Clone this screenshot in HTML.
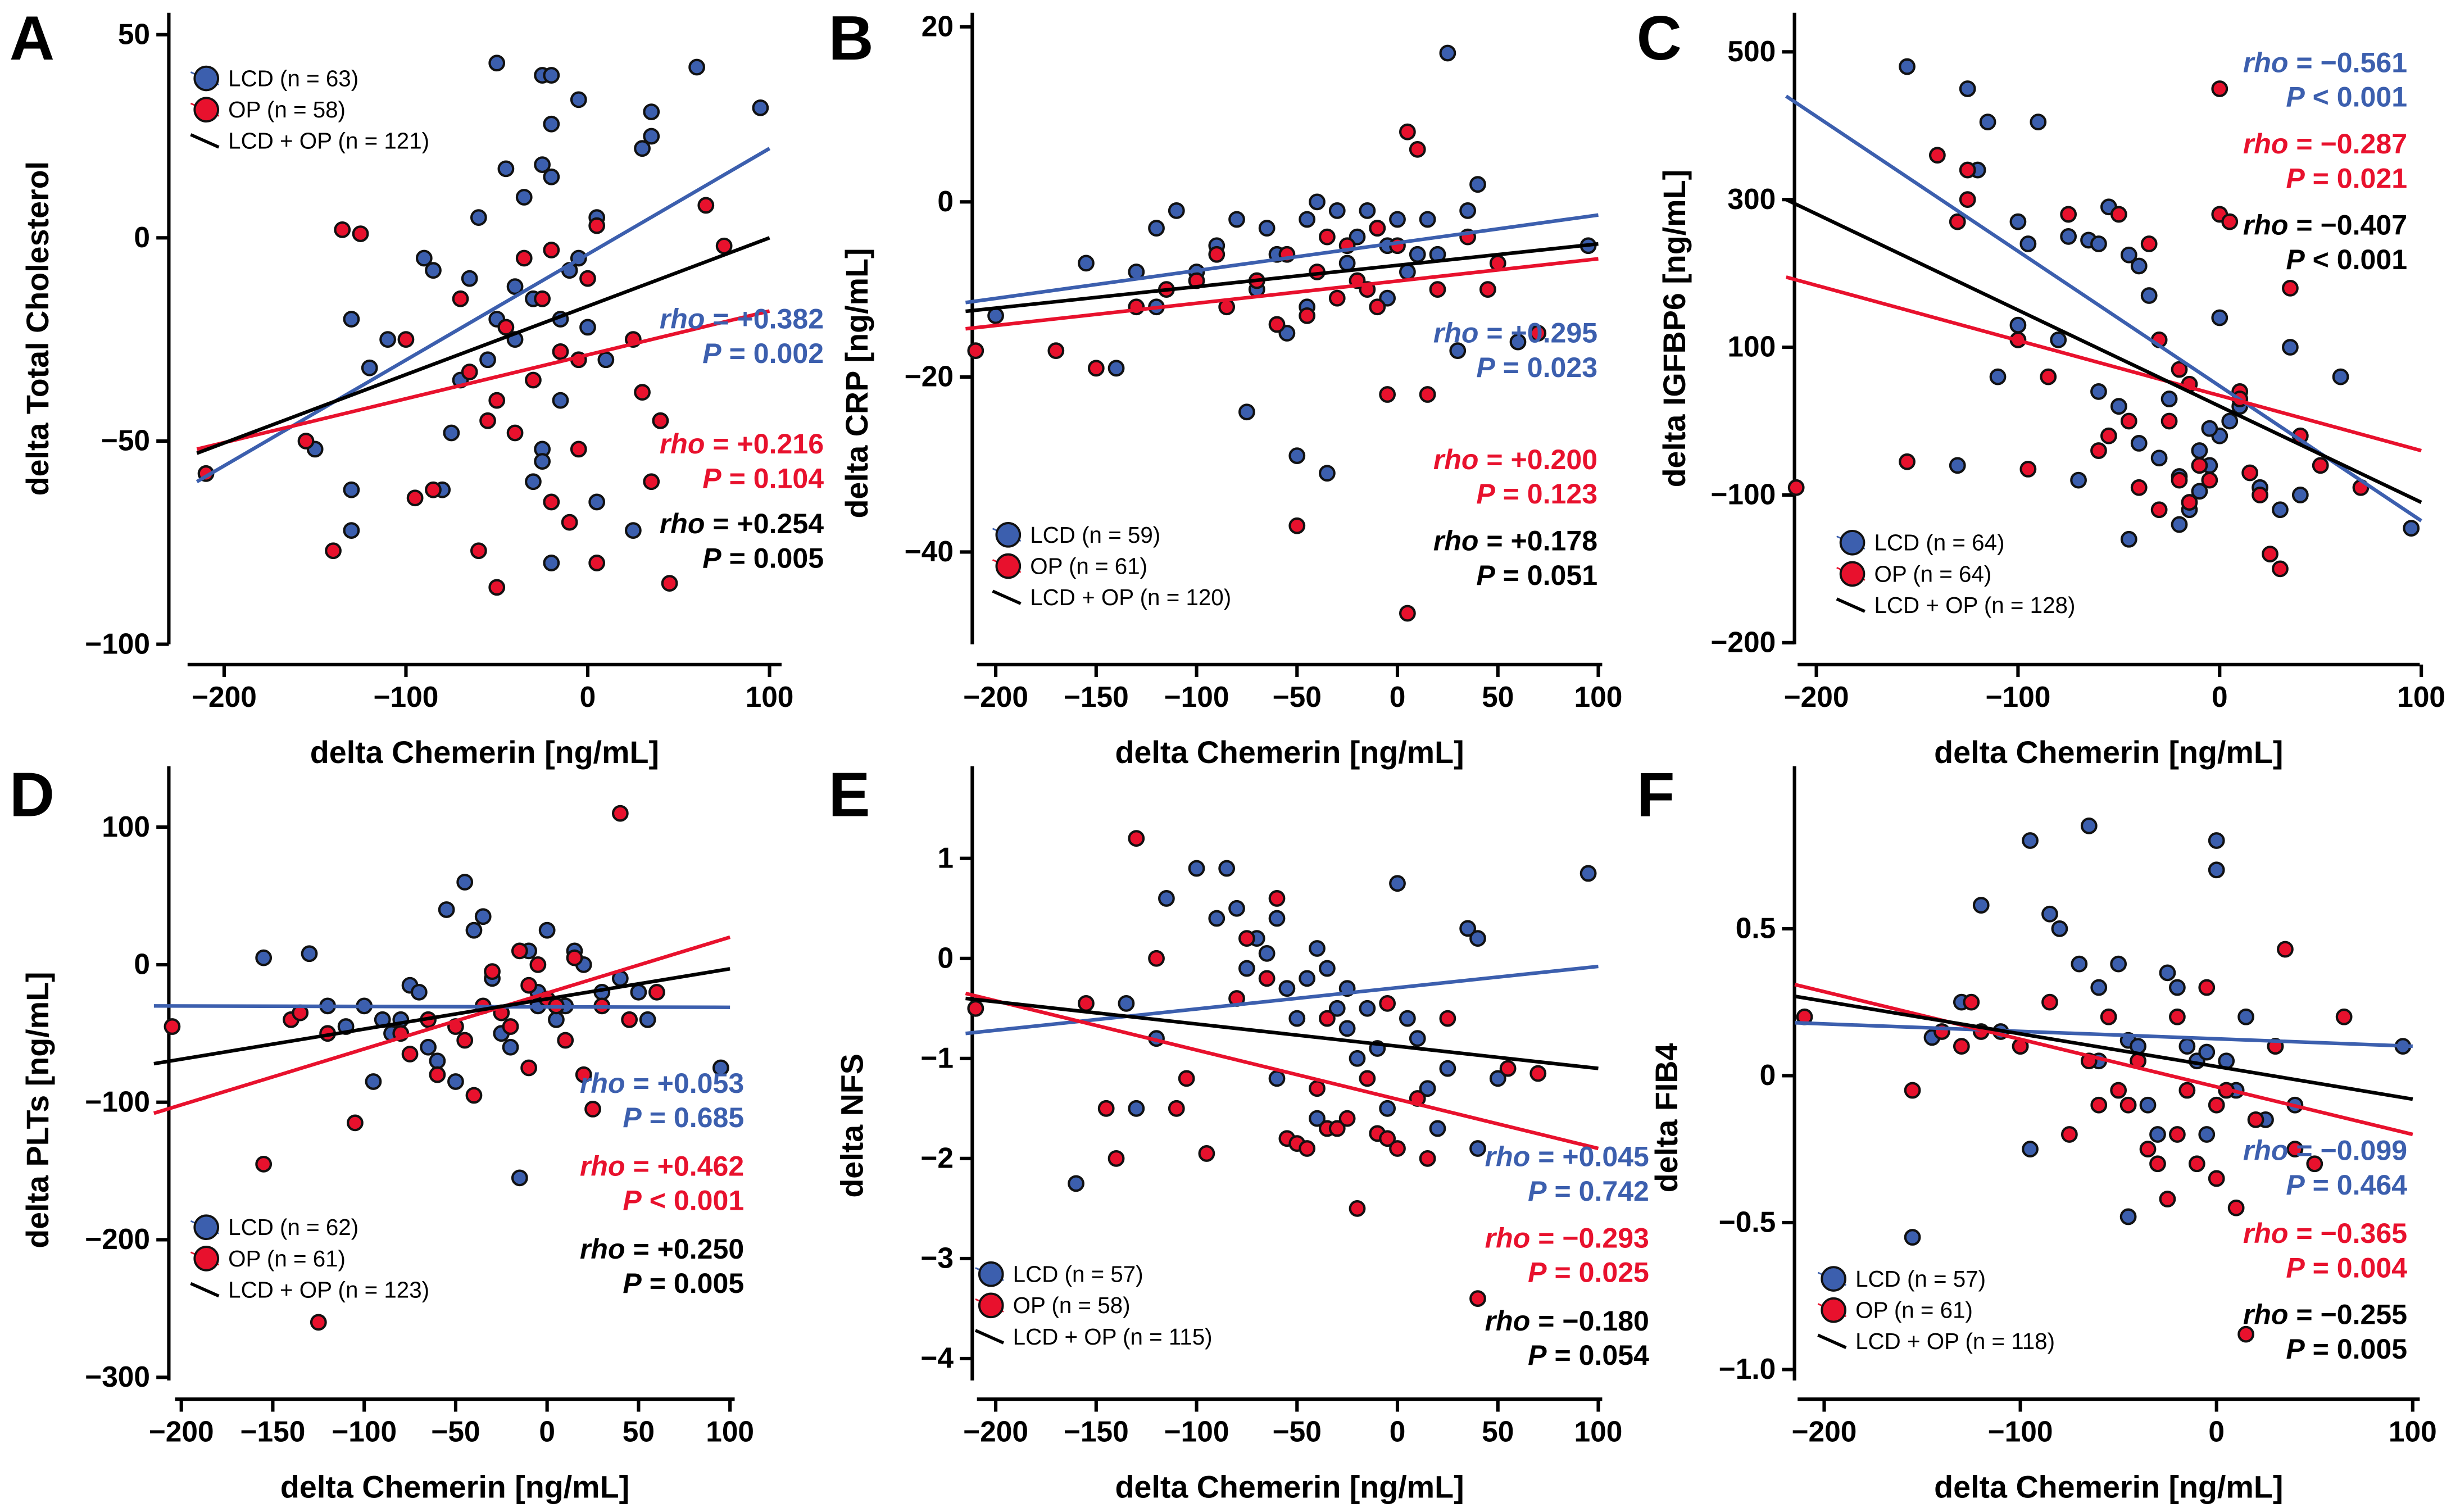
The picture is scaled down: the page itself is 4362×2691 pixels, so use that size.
<!DOCTYPE html>
<html><head><meta charset="utf-8">
<style>
html,body{margin:0;padding:0;background:#fff;}
svg{display:block;font-family:"Liberation Sans",Arial,sans-serif;}
</style></head>
<body>
<svg id="fig" width="4362" height="2691" viewBox="0 0 1568 967" xmlns="http://www.w3.org/2000/svg"></svg>
<script>
// ---- Data ----
const aLCD=[[-50,43],[-25,40],[-20,40],[-5,34],[-20,28],[60,42],[95,32],[35,31],[35,25],[30,22],[-45,17],[-25,18],[-20,15],[-60,5],[-90,-5],[-85,-8],[-40,-12],[-30,-15],[-10,-8],[-5,-5],[-110,-25],[-120,-32],[-130,-20],[-50,-20],[-70,-35],[-55,-30],[-40,-25],[-15,-40],[-25,-52],[-75,-48],[-80,-62],[-25,-55],[-30,-60],[5,-65],[-20,-80],[-150,-52],[-130,-62],[-130,-72],[25,-72],[10,-30],[0,-22],[5,5],[-65,-10],[-35,10],[-15,-20],[40,-45]];
const aOP=[[-210,-58],[-155,-50],[-140,-77],[-135,2],[-125,1],[-100,-25],[-95,-64],[-85,-62],[-60,-77],[-50,-86],[-45,-22],[-40,-48],[-35,-5],[-30,-35],[-20,-3],[-15,-28],[-10,-70],[-5,-52],[0,-10],[5,3],[5,-80],[25,-25],[30,-38],[35,-60],[40,-45],[45,-85],[65,8],[75,-2],[-70,-15],[-65,-33],[-20,-65],[-25,-15],[-5,-30],[-50,-40],[-55,-45]];
const bLCD=[[-200,-13],[-155,-7],[-130,-8],[-120,-3],[-110,-1],[-100,-8],[-90,-5],[-80,-2],[-75,-24],[-70,-10],[-60,-6],[-50,-29],[-45,-2],[-40,0],[-35,-31],[-30,-1],[-25,-7],[-20,-4],[-15,-1],[-10,-3],[-5,-5],[0,-2],[5,-8],[10,-6],[20,-6],[25,17],[30,-17],[35,-1],[40,2],[60,-16],[95,-5],[-55,-15],[-45,-12],[-65,-3],[-120,-12],[-140,-19],[-5,-11],[15,-2]];
const bOP=[[-210,-17],[-170,-17],[-150,-19],[-130,-12],[-115,-10],[-100,-9],[-85,-12],[-60,-14],[-50,-37],[-45,-13],[-40,-8],[-30,-11],[-20,-9],[-15,-10],[-10,-12],[-5,-22],[0,-5],[5,8],[5,-47],[10,6],[15,-22],[20,-10],[35,-4],[45,-10],[50,-7],[70,-15],[-25,-5],[-10,-3],[-55,-6],[-70,-9],[-35,-4],[-90,-6]];
const cLCD=[[-155,480],[-125,450],[-115,405],[-90,405],[-120,340],[-100,270],[-95,240],[-75,250],[-65,245],[-60,240],[-55,290],[-45,225],[-40,210],[-35,170],[-100,130],[-80,110],[-110,60],[-60,40],[-50,20],[-40,-30],[-30,-50],[-20,-75],[-10,-40],[-5,-60],[0,-20],[5,0],[10,20],[-15,-120],[-20,-140],[-45,-160],[-130,-60],[20,-90],[30,-120],[35,100],[60,60],[95,-145],[0,140],[-10,-95],[40,-100],[-70,-80],[-25,30],[-5,-10]];
const cOP=[[-210,-90],[-155,-55],[-140,360],[-130,270],[-125,340],[-125,300],[-95,-65],[-85,60],[-75,280],[-50,280],[-35,240],[-20,70],[-15,50],[-30,110],[-25,0],[-20,-80],[-15,-110],[-5,-80],[0,280],[0,450],[5,270],[10,40],[10,30],[15,-70],[20,-100],[25,-180],[30,-200],[35,180],[40,-20],[50,-60],[70,-90],[-60,-40],[-40,-90],[-10,-60],[-30,-120],[-55,-20],[-100,110],[-45,0]];
const dLCD=[[-155,5],[-130,8],[-120,-30],[-110,-45],[-100,-30],[-90,-40],[-85,-50],[-75,-15],[-65,-60],[-60,-70],[-55,40],[-45,60],[-40,25],[-35,35],[-30,-10],[-25,-50],[-20,-60],[-15,-155],[-10,10],[0,25],[-5,-20],[5,-40],[10,-30],[20,0],[30,-20],[40,-10],[50,-20],[55,-40],[95,-75],[-50,-85],[-70,-20],[-80,-40],[-5,-30],[15,10],[-95,-85]];
const dOP=[[-205,-45],[-155,-145],[-140,-40],[-125,-260],[-120,-50],[-105,-115],[-80,-50],[-75,-65],[-60,-80],[-50,-45],[-40,-95],[-35,-30],[-30,-5],[-25,-35],[-20,-45],[-15,10],[-10,-15],[-5,0],[0,-25],[5,-30],[10,-55],[15,5],[20,-80],[25,-105],[30,-30],[40,110],[45,-40],[60,-20],[-45,-55],[-65,-40],[-10,-75],[-135,-35]];
const eLCD=[[-210,-0.5],[-160,-2.25],[-135,-0.45],[-120,-0.8],[-115,0.6],[-100,0.9],[-90,0.4],[-85,0.9],[-80,0.5],[-75,-0.1],[-70,0.2],[-65,0.05],[-60,0.4],[-55,-0.3],[-50,-0.6],[-45,-0.2],[-40,0.1],[-35,-0.1],[-30,-0.5],[-25,-0.7],[-20,-1],[-15,-0.5],[-10,-0.9],[-5,-1.5],[0,0.75],[5,-0.6],[10,-0.8],[15,-1.3],[25,-1.1],[35,0.3],[40,0.2],[50,-1.2],[95,0.85],[-130,-1.5],[-60,-1.2],[-40,-1.6],[20,-1.7],[40,-1.9],[-25,-0.3]];
const eOP=[[-210,-0.5],[-155,-0.45],[-145,-1.5],[-140,-2.0],[-130,1.2],[-120,0],[-105,-1.2],[-95,-1.95],[-80,-0.4],[-75,0.2],[-60,0.6],[-55,-1.8],[-50,-1.85],[-45,-1.9],[-40,-1.3],[-35,-1.7],[-30,-1.7],[-25,-1.6],[-20,-2.5],[-15,-1.2],[-10,-1.75],[-5,-1.8],[0,-1.9],[10,-1.4],[15,-2.0],[25,-0.6],[40,-3.4],[55,-1.1],[70,-1.15],[-110,-1.5],[-65,-0.2],[-35,-0.6],[-5,-0.45]];
const fLCD=[[-155,-0.55],[-145,0.13],[-120,0.58],[-110,0.15],[-95,0.8],[-95,-0.25],[-85,0.55],[-80,0.5],[-70,0.38],[-65,0.85],[-60,0.3],[-50,0.38],[-45,0.12],[-40,0.1],[-35,-0.1],[-30,-0.2],[-25,0.35],[-20,0.3],[-15,0.1],[-10,0.05],[-5,0.08],[0,0.8],[0,0.7],[5,0.05],[10,-0.05],[15,0.2],[25,-0.15],[30,0.1],[40,-0.1],[95,0.1],[-45,-0.48],[-60,0.05],[-100,0.1],[-130,0.25],[-5,-0.2]];
const fOP=[[-210,0.2],[-155,-0.05],[-140,0.15],[-130,0.1],[-125,0.25],[-100,0.1],[-85,0.25],[-75,-0.2],[-65,0.05],[-60,-0.1],[-55,0.2],[-50,-0.05],[-45,-0.1],[-40,0.05],[-35,-0.25],[-30,-0.3],[-25,-0.42],[-20,0.2],[-15,-0.05],[-10,-0.3],[-5,0.3],[0,-0.1],[5,-0.05],[10,-0.45],[15,-0.88],[20,-0.15],[30,0.1],[35,0.43],[40,-0.25],[50,-0.3],[65,0.2],[-120,0.15],[-20,-0.2],[0,-0.35]];
// regression line endpoints [x1,y1,x2,y2]
const aFit={lcd:[-215,-60,100,22],op:[-215,-52,100,-18],all:[-215,-53,100,0]};
const bFit={lcd:[-215,-11.5,100,-1.5],op:[-215,-14.5,100,-6.5],all:[-215,-12.5,100,-4.8]};
const cFit={lcd:[-215,440,100,-135],op:[-215,195,100,-40],all:[-215,300,100,-110]};
const dFit={lcd:[-215,-30,100,-31],op:[-215,-108,100,20],all:[-215,-72,100,-3]};
const eFit={lcd:[-215,-0.75,100,-0.08],op:[-215,-0.35,100,-1.9],all:[-215,-0.4,100,-1.1]};
const fFit={lcd:[-215,0.18,100,0.1],op:[-215,0.31,100,-0.2],all:[-215,0.27,100,-0.08]};
const xTicksA=[-200,-100,0,100];
const xTicksB=[-200,-150,-100,-50,0,50,100];
const yTicksA=[50,0,-50,-100], yTicksB=[20,0,-20,-40], yTicksC=[500,300,100,-100,-300], yLabelsC=["500","300","100","\u2212100","\u2212200"];
const yTicksD=[100,0,-100,-200,-300], yTicksE=[1,0,-1,-2,-3,-4], yTicksF=[0.5,0,-0.5,-1.0], yLabelsF=["0.5","0","\u22120.5","\u22121.0"];
const statsA=[["+0.382","= 0.002"],["+0.216","= 0.104"],["+0.254","= 0.005"]];
const statsB=[["+0.295","= 0.023"],["+0.200","= 0.123"],["+0.178","= 0.051"]];
const statsC=[["\u22120.561","< 0.001"],["\u22120.287","= 0.021"],["\u22120.407","< 0.001"]];
const statsD=[["+0.053","= 0.685"],["+0.462","< 0.001"],["+0.250","= 0.005"]];
const statsE=[["+0.045","= 0.742"],["\u22120.293","= 0.025"],["\u22120.180","= 0.054"]];
const statsF=[["\u22120.099","= 0.464"],["\u22120.365","= 0.004"],["\u22120.255","= 0.005"]];

const NS="http://www.w3.org/2000/svg";
const svg=document.getElementById('fig');
const BLUE="#3c5fae", RED="#e8112d";
function mk(tag,attrs,parent){const e=document.createElementNS(NS,tag);for(const k in attrs)e.setAttribute(k,attrs[k]);(parent||svg).appendChild(e);return e;}
function fmt(v){return v<0?"\u2212"+Math.abs(v):String(v);}

function panel(p){
  const g=mk('g',{});
  
  
  const X=v=>p.xc+v*p.xk, Y=v=>p.yc-v*p.yk;
  const ya=mk('line',{x1:p.ax,y1:p.yTop,x2:p.ax,y2:p.yBot,stroke:'#000','stroke-width':2.2},g);
  
  const xa=mk('line',{x1:p.xL,y1:p.bx,x2:p.xR,y2:p.bx,stroke:'#000','stroke-width':2.2},g);
  
  p.xt.forEach(v=>{
    mk('line',{x1:X(v),y1:p.bx,x2:X(v),y2:p.bx+8,stroke:'#000','stroke-width':2.2},g);
    const t=mk('text',{x:X(v),y:p.bx+27,'text-anchor':'middle','font-size':18.5,'font-weight':'bold'},g);
    t.textContent=fmt(v);
    
  });
  p.yt.forEach((v,i)=>{
    mk('line',{x1:p.ax-8,y1:Y(v),x2:p.ax,y2:Y(v),stroke:'#000','stroke-width':2.2},g);
    const t=mk('text',{x:p.ax-12,y:Y(v)+6,'text-anchor':'end','font-size':18.5,'font-weight':'bold'},g);
    t.textContent=p.yl?p.yl[i]:fmt(v);
    
  });
  const xt=mk('text',{x:(p.xL+p.xR)/2,y:p.bx+63,'text-anchor':'middle','font-size':20,'font-weight':'bold'},g);
  xt.textContent='delta Chemerin [ng/mL]';
  
  const yt=mk('text',{x:0,y:0,'text-anchor':'middle','font-size':20,'font-weight':'bold',transform:`translate(${p.ytx},${p.yty}) rotate(-90)`},g);
  yt.textContent=p.ytitle;
  
  const lt=mk('text',{x:p.lx,y:p.ly,'font-size':40,'font-weight':'bold'},g);
  lt.textContent=p.id;
  
  [[p.lcd,BLUE],[p.op,RED]].forEach(([arr,c])=>{
    arr.forEach(d=>{
      const cc=mk('circle',{cx:X(d[0]),cy:Y(d[1]),r:4.6,fill:c,stroke:'#111','stroke-width':1.5},g);
      
      
    });
  });
  [['lcd',BLUE],['op',RED],['all','#000']].forEach(([k,c])=>{
    const f=p.fit[k];
    const l=mk('line',{x1:X(f[0]),y1:Y(f[1]),x2:X(f[2]),y2:Y(f[3]),stroke:c,'stroke-width':2.3},g);
    
  });
  const lg=mk('g',{},g);
  
  const items=[[BLUE,'LCD (n = '+p.n[0]+')'],[RED,'OP (n = '+p.n[1]+')'],['#000','LCD + OP (n = '+p.n[2]+')']];
  items.forEach((it,i)=>{
    const yy=p.gy+i*20;
    if(i<2){
      mk('line',{x1:p.gx,y1:yy-4,x2:p.gx+18,y2:yy+4,stroke:it[0],'stroke-width':1},lg);
      mk('circle',{cx:p.gx+10,cy:yy,r:7.5,fill:it[0],stroke:'#111','stroke-width':1.4},lg);
    } else {
      mk('line',{x1:p.gx,y1:yy-4,x2:p.gx+18,y2:yy+4,stroke:'#000','stroke-width':2},lg);
    }
    const t=mk('text',{x:p.gx+24,y:yy+5,'font-size':14.5},lg);
    t.textContent=it[1];
    
  });
  [BLUE,RED,'#000'].forEach((c,i)=>{
    const y1=p.sy[i];
    const t1=mk('text',{x:p.sx,y:y1,'text-anchor':'end','font-size':18,'font-weight':'bold',fill:c},g);
    t1.innerHTML='<tspan font-style="italic">rho</tspan> = '+p.st[i][0];
    
    const t2=mk('text',{x:p.sx,y:y1+22,'text-anchor':'end','font-size':18,'font-weight':'bold',fill:c},g);
    t2.innerHTML='<tspan font-style="italic">P</tspan> '+p.st[i][1];
    
  });
}

panel({id:'A',xc:376,xk:1.163,yc:152,yk:2.6,ax:108,yTop:8,yBot:412,bx:425,xL:120,xR:500,xt:xTicksA,yt:yTicksA,
  ytitle:'delta Total Cholesterol',ytx:31,yty:210,lx:6,ly:38,lcd:aLCD,op:aOP,fit:aFit,n:[63,58,121],gx:122,gy:50,sx:527,sy:[210,290,341],st:statsA});
panel({id:'B',xc:894,xk:1.285,yc:129,yk:5.6,ax:622,yTop:8,yBot:412,bx:425,xL:625,xR:1025,xt:xTicksB,yt:yTicksB,
  ytitle:'delta CRP [ng/mL]',ytx:555,yty:245,lx:530,ly:38,lcd:bLCD,op:bOP,fit:bFit,n:[59,61,120],gx:635,gy:342,sx:1022,sy:[219,300,352],st:statsB});
panel({id:'C',xc:1420,xk:1.29,yc:222+100*0.4725,yk:0.4725,ax:1148,yTop:8,yBot:412,bx:425,xL:1150,xR:1548,xt:xTicksA,yt:yTicksC,yl:yLabelsC,
  ytitle:'delta IGFBP6 [ng/mL]',ytx:1078,yty:210,lx:1047,ly:38,lcd:cLCD,op:cOP,fit:cFit,n:[64,64,128],gx:1175,gy:347,sx:1540,sy:[46,98,150],st:statsC});
panel({id:'D',xc:350,xk:1.17,yc:617,yk:0.88,ax:108,yTop:490,yBot:883,bx:895,xL:112,xR:470,xt:xTicksB,yt:yTicksD,
  ytitle:'delta PLTs [ng/mL]',ytx:31,yty:710,lx:6,ly:522,lcd:dLCD,op:dOP,fit:dFit,n:[62,61,123],gx:122,gy:785,sx:476,sy:[699,752,805],st:statsD});
panel({id:'E',xc:894,xk:1.285,yc:613,yk:64,ax:622,yTop:490,yBot:883,bx:895,xL:625,xR:1025,xt:xTicksB,yt:yTicksE,
  ytitle:'delta NFS',ytx:552,yty:720,lx:530,ly:522,lcd:eLCD,op:eOP,fit:eFit,n:[57,58,115],gx:624,gy:815,sx:1055,sy:[746,798,851],st:statsE});
panel({id:'F',xc:1418,xk:1.255,yc:688,yk:188,ax:1148,yTop:490,yBot:883,bx:895,xL:1150,xR:1548,xt:xTicksA,yt:yTicksF,yl:yLabelsF,
  ytitle:'delta FIB4',ytx:1073,yty:715,lx:1047,ly:522,lcd:fLCD,op:fOP,fit:fFit,n:[57,61,118],gx:1163,gy:818,sx:1540,sy:[742,795,847],st:statsF});
</script>
</body></html>
